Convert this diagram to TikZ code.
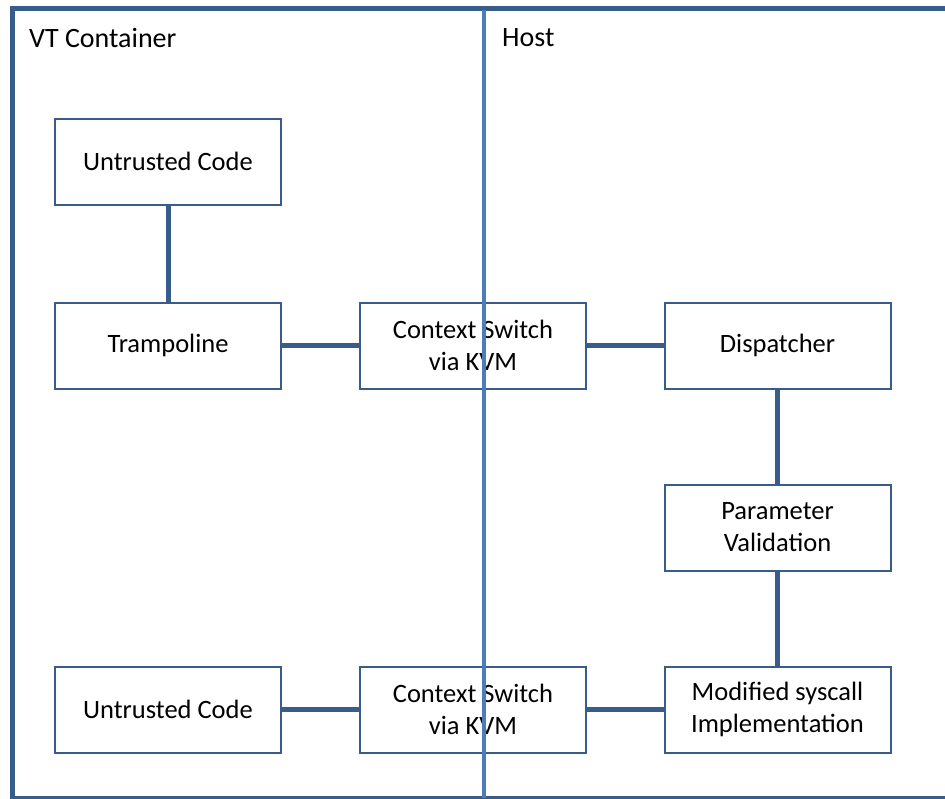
\documentclass[tikz,border=0pt]{standalone}
\usepackage{fontspec}
\setmainfont{Carlito}
\definecolor{frameblue}{HTML}{385D8A}
\definecolor{splitblue}{HTML}{4A7EBB}
\begin{document}
\begin{tikzpicture}[x=1pt,y=-1pt,
  block/.style={draw=frameblue, line width=2pt, fill=white,
    minimum width=226pt, minimum height=86pt, inner sep=0pt,
    align=center, font=\fontsize{26.5}{32}\selectfont},
  link/.style={draw=frameblue, line width=5pt},
  zone/.style={anchor=west, inner sep=0pt, font=\fontsize{28}{32}\selectfont}]
\useasboundingbox (0,0) rectangle (945,798);
\clip (0,0) rectangle (945,798);
\fill[white] (0,0) rectangle (945,798);

% outer container frame
\draw[frameblue, line width=5pt] (12,8) rectangle (960,798);

% zone titles
\node[zone] (vt) at (29,38) {VT Container};
\node[zone] (host) at (502,38) {Host};

% blocks
\node[block] (u1)  at (168,161.5) {Untrusted Code};
\node[block] (tr)  at (168,345.5) {Trampoline};
\node[block] (cs1) at (473,345.5) {Context Switch\\via KVM};
\node[block] (di)  at (777.5,345.5) {Dispatcher};
\node[block] (pv)  at (777.5,527.5) {Parameter\\Validation};
\node[block] (ms)  at (777.5,709.5) {Modified syscall\\Implementation};
\node[block] (u2)  at (168,709.5) {Untrusted Code};
\node[block] (cs2) at (473,709.5) {Context Switch\\via KVM};

% connectors
\draw[link] (u1) -- (tr);
\draw[link] (tr) -- (cs1);
\draw[link] (cs1) -- (di);
\draw[link] (di) -- (pv);
\draw[link] (pv) -- (ms);
\draw[link] (u2) -- (cs2);
\draw[link] (cs2) -- (ms);

% boundary between container and host
\coordinate (splittop) at (484,10);
\coordinate (splitbot) at (484,798);
\draw[splitblue, line width=3.5pt] (splittop) -- (splitbot);
\end{tikzpicture}
\end{document}
